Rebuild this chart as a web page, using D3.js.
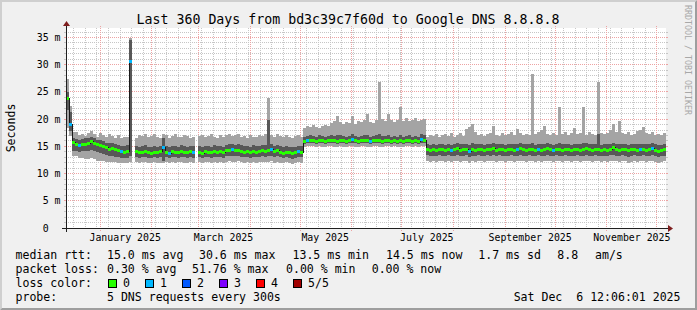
<!DOCTYPE html>
<html>
<head>
<meta charset="utf-8">
<script src="https://cdn.jsdelivr.net/npm/d3@7/dist/d3.min.js"></script>
<style>
  body { margin: 0; background: #f0f0f0; }
  svg text { font-family: "DejaVu Sans Mono", monospace; fill: #000; }
</style>
</head>
<body>
<script>
// one value per 1.8 days (200 steps over 360 days), milliseconds; null = no data
const ping1 = [
  18.3,16.9,13.3,13.2,12.9,12.8,12.7,12.6,12.8,12.6,
  12.4,12.3,12.3,12.2,12.1,12.2,12.1,12.0,12.0,11.9,
  12.0,12.1,null,12.2,12.0,12.1,12.2,11.9,12.0,12.1,
  12.0,11.9,11.9,12.1,11.9,12.2,12.0,12.1,12.2,12.0,
  11.9,12.1,12.0,null,12.1,11.9,12.1,12.2,12.0,12.1,
  12.0,12.2,11.9,12.2,12.3,12.2,12.1,12.3,12.1,12.0,
  12.1,11.9,12.2,12.0,12.1,12.2,12.1,12.2,12.3,12.0,
  12.2,12.0,11.9,12.1,11.9,11.8,12.0,12.1,12.0,14.9,
  15.0,15.1,15.0,14.8,15.0,14.9,14.8,15.0,15.1,14.9,
  14.8,15.0,14.9,14.8,15.0,15.1,14.9,14.8,15.0,15.1,
  14.9,14.8,15.0,15.0,14.9,14.8,15.0,15.1,14.9,15.0,
  14.8,14.9,14.8,15.0,15.1,14.9,15.0,14.8,15.1,15.0,
  12.4,12.2,12.3,12.1,12.4,12.3,12.2,12.4,12.1,12.3,
  12.4,12.2,12.3,12.4,12.0,12.3,12.2,12.4,12.3,12.1,
  12.4,12.3,12.4,12.2,12.3,12.3,12.1,12.3,12.4,12.2,
  12.3,12.4,12.3,12.2,12.3,12.4,12.1,12.3,12.2,12.3,
  12.4,12.3,12.1,12.3,12.4,12.2,12.3,12.3,12.1,12.3,
  12.4,12.2,12.3,12.4,12.3,12.2,12.3,12.4,12.1,12.3,
  12.2,12.3,12.4,12.3,12.2,12.3,12.3,12.0,12.2,12.3,
  12.2,12.3,12.4,12.2,12.3,12.4,12.2,12.0,12.1,12.3
];
const ping2 = [
  21.6,17.8,14.2,14.2,14.0,14.1,14.1,14.2,14.4,14.2,
  13.9,13.7,13.6,13.4,13.3,13.3,13.1,13.0,12.9,12.8,
  12.9,13.2,null,13.1,12.9,13.0,13.1,12.9,12.8,13.0,
  12.9,13.0,12.3,13.0,12.8,13.1,13.0,12.9,13.1,13.0,
  12.9,13.0,12.9,null,13.0,12.8,13.0,13.0,12.9,13.1,
  13.0,13.0,12.9,13.2,13.3,13.3,13.2,13.3,13.1,13.0,
  13.0,12.9,13.1,13.0,13.0,13.2,13.1,13.2,13.3,13.0,
  13.2,13.0,12.8,13.0,12.9,12.7,12.9,13.0,13.0,15.5,
  15.6,15.7,15.6,15.5,15.6,15.6,15.5,15.6,15.7,15.6,
  15.5,15.7,15.6,15.5,15.6,15.7,15.6,15.5,15.6,15.7,
  15.6,15.5,15.6,15.7,15.6,15.5,15.6,15.7,15.5,15.6,
  15.5,15.6,15.5,15.6,15.7,15.5,15.6,15.5,15.7,15.6,
  13.4,13.2,13.3,13.2,13.4,13.3,13.2,13.4,13.2,13.3,
  13.4,13.2,13.3,13.4,13.1,13.3,13.2,13.4,13.3,13.2,
  13.4,13.3,13.4,13.2,13.4,13.3,13.2,13.3,13.4,13.2,
  13.3,13.4,13.3,13.2,13.4,13.3,13.2,13.4,13.2,13.3,
  13.4,13.3,13.2,13.4,13.3,13.2,13.4,13.3,13.2,13.3,
  13.4,13.2,13.3,13.4,13.3,13.2,13.4,13.3,13.2,13.3,
  13.2,13.4,13.5,13.3,13.2,13.4,13.3,13.1,13.3,13.4,
  13.2,13.3,13.4,13.2,13.3,13.4,13.2,13.1,13.2,13.3
];
const median = [
  23.9,19.2,15.8,15.4,15.3,15.4,15.5,15.6,16.0,15.7,
  15.4,15.2,15.0,14.8,14.6,14.7,14.5,14.3,14.1,14.0,
  14.2,30.6,null,14.1,13.9,14.0,14.2,13.9,13.8,14.0,
  13.9,14.1,14.8,14.0,13.8,14.1,14.0,13.9,14.2,14.0,
  13.9,14.1,13.9,null,14.0,13.8,14.1,14.0,13.9,14.2,
  14.0,14.1,13.9,14.3,14.4,14.5,14.3,14.4,14.2,14.0,
  14.1,13.9,14.2,14.0,14.1,14.3,14.2,14.4,14.5,14.1,
  14.3,14.0,13.8,14.0,13.9,13.7,13.9,14.1,14.0,16.0,
  16.1,16.2,16.1,16.0,16.2,16.1,16.0,16.1,16.2,16.1,
  16.0,16.2,16.1,16.0,16.1,16.3,16.1,16.0,16.1,16.2,
  16.1,16.0,16.1,16.2,16.1,16.0,16.1,16.2,16.0,16.1,
  16.0,16.1,16.0,16.1,16.2,16.0,16.1,16.0,16.3,16.2,
  14.6,14.4,14.5,14.3,14.6,14.5,14.4,14.6,14.3,14.5,
  14.7,14.4,14.5,14.6,14.2,14.5,14.4,14.6,14.5,14.3,
  14.6,14.5,14.7,14.4,14.6,14.5,14.3,14.5,14.6,14.4,
  14.5,14.7,14.5,14.4,14.6,14.5,14.3,14.6,14.4,14.5,
  14.7,14.5,14.3,14.6,14.5,14.4,14.6,14.5,14.3,14.5,
  14.6,14.4,14.5,14.7,14.5,14.4,14.6,14.5,14.3,14.5,
  14.4,14.6,14.8,14.5,14.4,14.6,14.5,14.3,14.5,14.6,
  14.4,14.5,14.6,14.4,14.5,14.7,14.4,14.2,14.3,14.5
];
const ping4 = [
  24.9,21.3,16.6,16.4,16.2,16.3,16.5,16.5,16.8,16.6,
  16.2,16.1,15.9,15.7,15.6,15.6,15.4,15.3,15.1,15.0,
  15.2,34.6,null,15.1,14.9,15.0,15.2,14.9,14.8,15.0,
  14.9,15.1,16.5,15.0,14.9,15.1,15.0,14.9,15.2,15.0,
  14.9,15.1,15.0,null,15.0,14.9,15.1,15.0,14.9,15.2,
  15.0,15.1,14.9,15.3,15.4,15.4,15.3,15.4,15.2,15.0,
  15.1,14.9,15.2,15.0,15.1,15.3,15.2,19.9,15.4,15.1,
  15.3,15.0,14.9,15.0,14.9,14.8,14.9,15.1,15.0,16.8,
  16.9,17.0,16.9,16.8,17.0,16.9,16.8,16.9,17.0,16.9,
  17.0,17.0,16.9,16.8,16.9,17.2,16.9,16.8,16.9,17.0,
  17.0,16.8,16.9,17.0,17.3,16.9,16.9,17.0,16.8,16.9,
  16.8,17.1,16.8,16.9,17.0,16.8,16.9,16.8,17.2,17.1,
  15.5,15.3,15.4,15.3,15.5,15.4,15.3,15.5,15.3,15.4,
  15.6,15.4,15.4,15.5,15.3,15.6,15.4,15.5,15.4,15.3,
  15.5,15.4,15.6,15.4,15.5,15.4,15.3,15.4,15.5,15.4,
  15.4,15.6,15.4,15.4,15.5,15.6,15.3,15.5,15.4,15.5,
  15.6,15.4,15.3,15.5,15.6,15.4,15.5,15.4,15.3,15.4,
  15.5,15.4,15.6,15.6,15.4,15.4,15.5,17.2,15.3,15.4,
  15.4,15.5,15.7,15.4,15.5,15.5,15.4,15.3,15.4,15.5,
  15.4,15.4,15.5,15.4,15.4,15.6,15.4,15.2,15.3,15.4
];
const ping5 = [
  27.3,22.4,17.6,17.6,17.0,17.3,16.9,17.5,17.8,17.2,
  16.8,17.4,17.0,16.7,17.3,16.9,16.6,17.1,16.5,16.8,
  16.7,35.0,null,16.6,17.1,16.9,17.3,16.7,16.9,17.2,
  16.8,16.6,17.3,17.0,16.6,16.9,17.2,16.8,16.7,17.1,
  16.9,16.5,16.8,null,16.9,17.0,16.7,16.9,17.2,16.8,
  16.6,17.0,16.8,17.1,17.3,16.9,17.0,17.2,16.8,16.9,
  16.6,17.0,16.8,16.7,17.1,16.9,17.2,23.8,17.0,16.8,
  17.3,16.9,16.7,17.0,16.8,16.6,16.9,17.1,16.8,18.3,
  18.7,18.5,18.9,18.6,18.4,18.8,19.0,18.7,19.3,19.6,
  20.5,19.4,19.1,19.5,19.3,20.6,19.2,19.6,19.4,19.9,
  21.0,19.5,19.3,19.8,26.9,20.1,19.6,21.0,19.8,19.5,
  19.9,22.2,19.7,20.2,19.6,19.9,20.3,19.7,19.9,20.1,
  16.8,17.1,16.9,17.3,16.7,17.0,17.2,16.9,17.4,16.8,
  17.1,17.5,16.9,18.1,18.6,19.2,17.6,17.0,17.3,16.9,
  17.2,17.5,18.7,17.1,16.9,17.4,17.0,17.2,17.6,17.1,
  18.2,17.4,17.0,17.3,17.1,28.3,17.2,17.6,18.0,18.7,
  17.3,17.0,17.4,17.1,22.2,17.3,17.6,17.0,17.5,18.4,
  17.2,17.4,22.3,17.1,17.6,17.3,17.0,26.9,17.4,17.2,
  17.5,18.0,19.2,17.7,19.6,17.4,17.2,17.6,17.0,17.3,
  17.8,18.0,18.6,17.5,17.2,17.6,17.0,17.3,17.1,17.4
];
// steps where 1 of 5 pings was lost
const lossSteps = [1,4,18,21,32,34,42,55,68,77,80,95,101,118,128,134,150,157,162,191,195];

const lossColors = ['#26ff00','#00b8ff','#0059ff','#7e00ff','#ff0000','#a10000'];
const lossLabels = ['0','1','2','3','4','5/5'];
const yTicks = [0,5,10,15,20,25,30,35];
const labelMonths = ['2025-01-01','2025-03-01','2025-05-01','2025-07-01','2025-09-01','2025-11-01'];
const rttStats = ['15.0 ms avg','30.6 ms max','13.5 ms min','14.5 ms now','1.7 ms sd','8.8','am/s'];
const lossStats = ['0.30 % avg','51.76 % max','0.00 % min','0.00 % now'];

const width = 697, height = 310;
const x0 = 66, x1 = 666, yTop = 28, yBot = 228;
const day = 864e5;
const endTime = new Date(Date.UTC(2025, 11, 6, 12, 6, 1));
const startTime = new Date(endTime - 360 * day);
const stepMs = 360 * day / median.length;

const x = d3.scaleUtc().domain([startTime, endTime]).range([x0, x1]);
const y = d3.scaleLinear().domain([0, 36.75]).range([yBot, yTop]);

const rows = median.map((m, i) => ({
    t0: new Date(+startTime + i * stepMs),
    t1: new Date(+startTime + (i + 1) * stepMs),
    p1: ping1[i], p2: ping2[i], med: m, p4: ping4[i], p5: ping5[i],
    loss: lossSteps.includes(i) ? 1 : 0
})).filter(d => d.med !== null);

const svg = d3.select('body').append('svg').attr('width', width).attr('height', height);

// background + 3d border
svg.append('rect').attr('width', width).attr('height', height).attr('fill', '#f0f0f0');
svg.append('path').attr('d', `M0,${height}L2,${height-2}L2,2L${width-2},2L${width},0L0,0Z`).attr('fill', '#cfcfcf');
svg.append('path').attr('d', `M2,${height-2}L${width-2},${height-2}L${width-2},2L${width},0L${width},${height}L0,${height}Z`).attr('fill', '#9e9e9e');

svg.append('rect').attr('x', x0).attr('y', yTop).attr('width', x1 - x0).attr('height', yBot - yTop).attr('fill', '#fff');

// grid
const grid = svg.append('g').attr('shape-rendering', 'crispEdges').attr('stroke-width', 1);
const minorCol = '#c6c6c6', majorCol = '#eda3a3';
d3.range(1, 37).filter(v => v % 5 !== 0).forEach(v => {
    const yy = Math.floor(y(v)) + 0.5;
    grid.append('line').attr('x1', x0 - 2).attr('x2', x0).attr('y1', yy).attr('y2', yy).attr('stroke', minorCol);
    grid.append('line').attr('x1', x1).attr('x2', x1 + 2).attr('y1', yy).attr('y2', yy).attr('stroke', minorCol);
    grid.append('line').attr('x1', x0).attr('x2', x1).attr('y1', yy).attr('y2', yy)
        .attr('stroke', minorCol).attr('stroke-dasharray', '1,1');
});
d3.utcMonday.range(startTime, endTime).forEach(t => {
    const xx = Math.floor(x(t)) + 0.5;
    grid.append('line').attr('x1', xx).attr('x2', xx).attr('y1', yTop).attr('y2', yBot + 2)
        .attr('stroke', minorCol).attr('stroke-dasharray', '1,1');
});
yTicks.filter(v => v > 0).forEach(v => {
    const yy = Math.floor(y(v)) + 0.5;
    grid.append('line').attr('x1', x0 - 2).attr('x2', x0).attr('y1', yy).attr('y2', yy).attr('stroke', majorCol);
    grid.append('line').attr('x1', x1).attr('x2', x1 + 2).attr('y1', yy).attr('y2', yy).attr('stroke', majorCol);
    grid.append('line').attr('x1', x0).attr('x2', x1).attr('y1', yy).attr('y2', yy)
        .attr('stroke', majorCol).attr('stroke-dasharray', '1,1');
});
d3.utcMonth.range(startTime, endTime).forEach(t => {
    const xx = Math.floor(x(t)) + 0.5;
    grid.append('line').attr('x1', xx).attr('x2', xx).attr('y1', yTop - 2).attr('y2', yBot + 3)
        .attr('stroke', majorCol).attr('stroke-dasharray', '1,1');
});

// smoke
const plot = svg.append('g').attr('shape-rendering', 'crispEdges');
plot.selectAll('rect.outer').data(rows).join('rect').attr('class', 'outer')
    .attr('x', d => x(d.t0)).attr('width', d => x(d.t1) - x(d.t0))
    .attr('y', d => y(d.p5)).attr('height', d => y(d.p1) - y(d.p5))
    .attr('fill', '#a4a4a4');
plot.selectAll('rect.inner').data(rows).join('rect').attr('class', 'inner')
    .attr('x', d => x(d.t0)).attr('width', d => x(d.t1) - x(d.t0))
    .attr('y', d => y(d.p4)).attr('height', d => y(d.p2) - y(d.p4))
    .attr('fill', '#585858');

// median step line, broken at gaps
const pts = [];
median.forEach((m, i) => {
    if (m === null) { pts.push(null); return; }
    pts.push([new Date(+startTime + i * stepMs), m]);
    pts.push([new Date(+startTime + (i + 1) * stepMs), m]);
});
svg.append('path')
    .attr('d', d3.line().defined(d => d !== null).x(d => x(d[0])).y(d => Math.round(y(d[1])) + 0.5)(pts))
    .attr('fill', 'none').attr('stroke', '#1a1a1a').attr('stroke-width', 1).attr('shape-rendering', 'crispEdges');

// loss coloured median band, on top of the line
const medG = svg.append('g').attr('shape-rendering', 'crispEdges');
medG.selectAll('rect').data(rows).join('rect')
    .attr('x', d => x(d.t0)).attr('width', d => x(d.t1) - x(d.t0))
    .attr('y', d => Math.round(y(d.med)) - 1).attr('height', 3)
    .attr('fill', d => lossColors[d.loss]);

// axes
const ax = svg.append('g').attr('shape-rendering', 'crispEdges');
ax.append('line').attr('x1', x0 - 4).attr('x2', x1 + 4).attr('y1', yBot + 0.5).attr('y2', yBot + 0.5).attr('stroke', '#1f1f1f');
ax.append('line').attr('x1', x0 + 0.5).attr('x2', x0 + 0.5).attr('y1', yBot + 4).attr('y2', yTop - 4).attr('stroke', '#1f1f1f');
svg.append('path').attr('d', `M${x1 + 2},${yBot - 3}L${x1 + 2},${yBot + 4}L${x1 + 7},${yBot + 0.5}Z`).attr('fill', '#7f1f1f');
svg.append('path').attr('d', `M${x0 - 3},${yTop - 2}L${x0 + 4},${yTop - 2}L${x0 + 0.5},${yTop - 7}Z`).attr('fill', '#7f1f1f');

const axisFont = '9.9px', axisCharW = 5.96;
const labelFont = '11.55px';
svg.append('g').selectAll('text').data(yTicks).join('text')
    .attr('x', 60.5).attr('y', d => y(d) + 3.5)
    .attr('dx', d => d === 0 ? -2 * axisCharW : 0)
    .attr('text-anchor', 'end').style('font-size', axisFont)
    .text(d => d === 0 ? '0' : d + ' m');

svg.append('g').selectAll('text').data(labelMonths).join('text')
    .attr('x', d => x(new Date(+new Date(d + 'T00:00:00Z') + 15 * day)))
    .attr('y', 241.3).attr('text-anchor', 'middle').style('font-size', axisFont)
    .text(d => d3.utcFormat('%B %Y')(new Date(d + 'T00:00:00Z')));

svg.append('text').attr('transform', 'translate(14.5,128) rotate(-90)')
    .attr('text-anchor', 'middle').style('font-size', labelFont).text('Seconds');

svg.append('text').attr('x', 348).attr('y', 23.5).attr('text-anchor', 'middle')
    .style('font-size', '13.25px').text('Last 360 Days from bd3c39c7f60d to Google DNS 8.8.8.8');

svg.append('text').attr('transform', 'translate(685,5) rotate(90)')
    .style('font-size', '8.3px').style('fill', '#a8a8a8').text('RRDTOOL / TOBI OETIKER');

// legend
const leg = svg.append('g').style('font-size', labelFont);
const rttX = [107, 199, 292.5, 386, 478.3, 557.3, 595];
leg.append('text').attr('x', 15.5).attr('y', 258.5).text('median rtt:');
rttStats.forEach((s, i) => leg.append('text').attr('x', rttX[i]).attr('y', 258.5).text(s));
const lossX = [107, 192, 286, 371.7];
leg.append('text').attr('x', 15.5).attr('y', 272.5).text('packet loss:');
lossStats.forEach((s, i) => leg.append('text').attr('x', lossX[i]).attr('y', 272.5).text(s));
leg.append('text').attr('x', 15.5).attr('y', 286.5).text('loss color:');
lossColors.forEach((c, i) => {
    leg.append('rect').attr('x', 108.5 + i * 37).attr('y', 279.5).attr('width', 8).attr('height', 8)
        .attr('fill', c).attr('stroke', '#000').attr('stroke-width', 1);
    leg.append('text').attr('x', 123 + i * 37).attr('y', 286.5).text(lossLabels[i]);
});
leg.append('text').attr('x', 15.5).attr('y', 300.5).text('probe:');
leg.append('text').attr('x', 107).attr('y', 300.5).text('5 DNS requests every 300s');
leg.append('text').attr('x', 680.5).attr('y', 300.5).attr('text-anchor', 'end').text('Sat Dec \u00a06 12:06:01 2025');
</script>
</body>
</html>
